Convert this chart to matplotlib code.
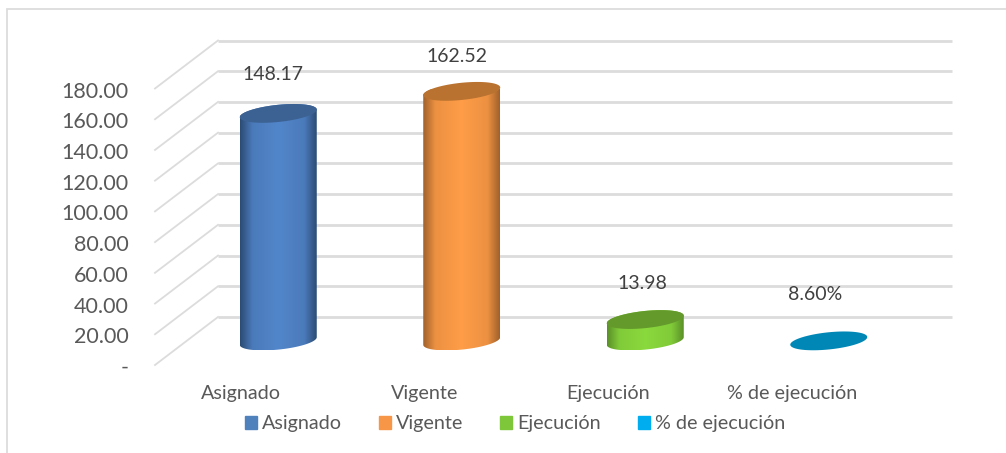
"""Cylinder column chart of budget execution."""

from __future__ import annotations

import matplotlib

matplotlib.use("Agg")
import matplotlib.pyplot as plt
import numpy as np
from matplotlib.colors import LinearSegmentedColormap, to_rgb
from matplotlib.patches import Patch, PathPatch, Rectangle
from matplotlib.path import Path
from matplotlib.transforms import Affine2D

CATEGORIES = ["Asignado", "Vigente", "Ejecución", "% de ejecución"]
VALUES = [148.17, 162.52, 13.98, 0.086]
VALUE_LABELS = ["148.17", "162.52", "13.98", "8.60%"]
Y_TICKS = [0, 20, 40, 60, 80, 100, 120, 140, 160, 180]
Y_TICK_LABELS = ["-", "20.00", "40.00", "60.00", "80.00", "100.00", "120.00",
                 "140.00", "160.00", "180.00"]

LEGEND_COLORS = ["#4f81bd", "#f79646", "#7fc73a", "#00aeef"]
LIGHT_COLORS = ["#5286cb", "#ff9d48", "#8ad93d", "#00a8e0"]
DARK_COLORS = ["#2b4b73", "#a0602a", "#5a9028", "#006c92"]
TOP_COLORS = ["#3c6293", "#b9722f", "#649a2b", "#0087b6"]

# label offsets from the top of each column, in pixels
LABEL_DX = [-5, -5, -3, -14]
LABEL_DY = [39, 35, 36, 46]

GRID_COLOR = "#dcdcdc"
TEXT_COLOR = "#595959"
LABEL_COLOR = "#404040"
FONT = "Lato"

WIDTH, HEIGHT = 1006, 453
LEFT, RIGHT = 155, 889
BOTTOM, TOP = 365, 88.5
DEPTH_X, DEPTH_Y = 63, 48
HALF_WIDTH = 38.5 / 183.5
TILT = 3.8
MINOR = 8.6


def ellipse_xy(center: float, level: float, ax, t: np.ndarray) -> tuple[np.ndarray, np.ndarray]:
    """Points of the tilted column end, in data units."""
    px_per_y = ax.transData.transform((0, 1))[1] - ax.transData.transform((0, 0))[1]
    cos_t, sin_t = np.cos(t), np.sin(t)
    x = center + HALF_WIDTH * cos_t
    y = level + (TILT * cos_t + MINOR * sin_t) / px_per_y
    return x, y


def side_cmap(index: int) -> LinearSegmentedColormap:
    dark = np.array(to_rgb(DARK_COLORS[index]))
    light = np.array(to_rgb(LIGHT_COLORS[index]))
    shoulder = tuple(dark * 0.2 + light * 0.8)
    stops = [(0, tuple(dark)), (0.16, shoulder), (0.5, tuple(light)), (0.84, shoulder), (1, tuple(dark))]
    return LinearSegmentedColormap.from_list("side", stops)


def draw_cylinder(ax, index: int, value: float, transform) -> None:
    center = index + 0.5
    top_t = np.linspace(0, 2 * np.pi, 120)

    if value > 1:
        lower = np.linspace(np.pi, 2 * np.pi, 60)
        upper = np.linspace(0, np.pi, 60)
        bottom_x, bottom_y = ellipse_xy(center, 0, ax, lower)
        top_x, top_y = ellipse_xy(center, value, ax, upper)
        body = np.column_stack([
            np.concatenate([bottom_x, top_x]),
            np.concatenate([bottom_y, top_y]),
        ])
        clip = PathPatch(Path(np.vstack([body, body[:1]])), transform=transform)
        gradient = np.linspace(0, 1, 256).reshape(1, -1)
        image = ax.imshow(
            gradient, cmap=side_cmap(index), aspect="auto", zorder=3,
            extent=(center - HALF_WIDTH, center + HALF_WIDTH, body[:, 1].min(), body[:, 1].max()),
        )
        image.set_transform(transform)
        image.set_clip_path(clip)

    cap_x, cap_y = ellipse_xy(center, value, ax, top_t)
    ax.fill(cap_x, cap_y, color=TOP_COLORS[index], lw=0, zorder=4,
            transform=transform, clip_on=False)


def main() -> None:
    plt.rcParams["font.family"] = [FONT, "DejaVu Sans"]
    fig = plt.figure(figsize=(WIDTH / 100, HEIGHT / 100), dpi=100, facecolor="white")
    fig.add_artist(Rectangle((6.5 / WIDTH, -0.1), 1.1, 1.1 - 9.5 / HEIGHT,
                             transform=fig.transFigure, fill=False,
                             edgecolor=GRID_COLOR, lw=1.3))

    ax = fig.add_axes((LEFT / WIDTH, 1 - BOTTOM / HEIGHT,
                       (RIGHT - LEFT) / WIDTH, (BOTTOM - TOP) / HEIGHT))
    ax.set_xlim(0, len(CATEGORIES))
    ax.set_ylim(0, Y_TICKS[-1])
    ax.patch.set_visible(False)
    for spine in ax.spines.values():
        spine.set_visible(False)

    # gridlines run back along the side wall, then across the back wall
    back = ax.transData + Affine2D().translate(DEPTH_X, DEPTH_Y)
    middle = ax.transData + Affine2D().translate(DEPTH_X / 2, DEPTH_Y / 2)
    for tick in Y_TICKS:
        wall = ax.transData.transform((0, tick))
        ax.plot([wall[0], wall[0] + DEPTH_X], [wall[1], wall[1] + DEPTH_Y],
                transform=None, color=GRID_COLOR, lw=1.3, zorder=1, clip_on=False)
        ax.plot([0, len(CATEGORIES)], [tick, tick], transform=back,
                color=GRID_COLOR, lw=2.0, zorder=1, clip_on=False, solid_capstyle="butt")

    for index, value in enumerate(VALUES):
        draw_cylinder(ax, index, value, middle)
        ax.annotate(VALUE_LABELS[index], xy=(index + 0.5, value), xycoords=middle,
                    xytext=(LABEL_DX[index] * 0.72, LABEL_DY[index] * 0.72),
                    textcoords="offset points", ha="center", va="center",
                    fontsize=14, color=LABEL_COLOR, zorder=5)

    ax.set_xlim(0, len(CATEGORIES))
    ax.set_ylim(0, Y_TICKS[-1])
    ax.set_yticks(Y_TICKS, Y_TICK_LABELS, fontsize=15.5, color=TEXT_COLOR)
    ax.set_xticks(np.arange(len(CATEGORIES)) + 0.47, CATEGORIES, fontsize=14.2, color=TEXT_COLOR)
    ax.tick_params(axis="y", length=0, pad=19)
    ax.tick_params(axis="x", length=0, pad=14.5)
    for label in ax.get_yticklabels():
        label.set_transform(label.get_transform() + Affine2D().translate(0, -1))

    handles = [Patch(color=color) for color in LEGEND_COLORS]
    fig.legend(handles, CATEGORIES, loc="center", bbox_to_anchor=(515 / WIDTH, 1 - 424 / HEIGHT),
               ncol=4, frameon=False, fontsize=14.2, labelcolor=TEXT_COLOR,
               handlelength=0.61, handleheight=0.61, handletextpad=0.28, columnspacing=1.85)

    fig.savefig("out.png", dpi=100)
    plt.close(fig)


if __name__ == "__main__":
    main()
